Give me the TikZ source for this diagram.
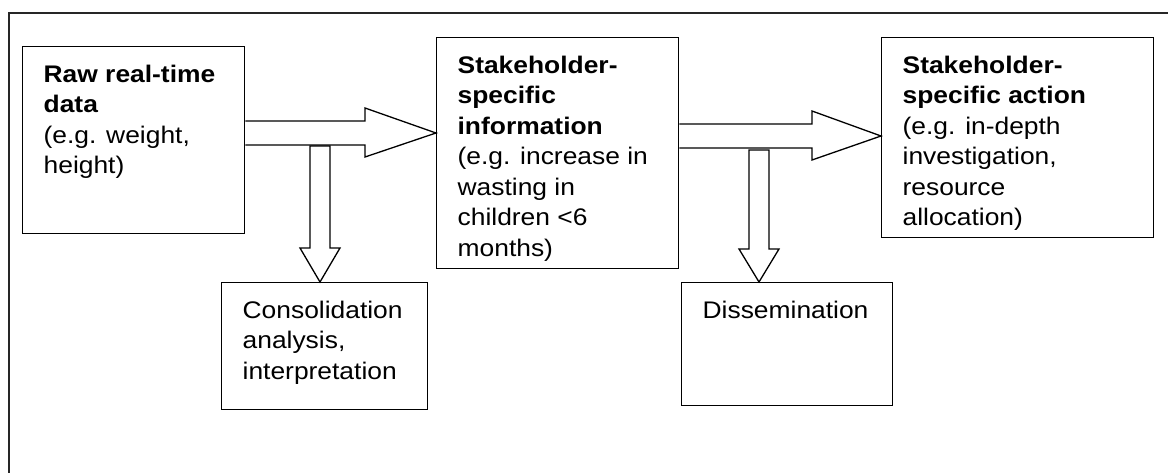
\documentclass[tikz,border=0pt]{standalone}
\usepackage{fontspec}
\setmainfont{Liberation Sans}[FakeStretch=1.1]
\usetikzlibrary{calc}
\tikzset{
  box/.style={draw, line width=1.3pt, anchor=north west, inner xsep=21pt, inner ysep=18pt,
    font=\fontsize{24pt}{30.5pt}\selectfont},
  fat/.style={draw, line width=1.3pt, line join=miter},
}
\newcommand{\boxtext}[3]{\parbox[c][#2][t]{#1}{\raggedright #3}}
\begin{document}
\begin{tikzpicture}[x=1pt,y=-1pt]
	\useasboundingbox (0,0) rectangle (1168,473);
	\draw[line width=1.5pt, black!85] (1168,13) -- (9,13) -- (9,473);
	\node[box] (raw) at (22,46) {\boxtext{180pt}{151pt}{\textbf{Raw real-time}\\\textbf{data}\\(e.g. weight,\\height)}};
	\node[box] (info) at (436,37) {\boxtext{200pt}{195pt}{\textbf{Stakeholder-}\\\textbf{specific}\\\textbf{information}\\(e.g. increase in\\wasting in\\children <6\\months)}};
	\node[box] (action) at (881,37) {\boxtext{230pt}{164pt}{\textbf{Stakeholder-}\\\textbf{specific action}\\(e.g. in-depth\\investigation,\\resource\\allocation)}};
	\node[box] (consol) at (221,282) {\boxtext{164pt}{91pt}{Consolidation\\analysis,\\interpretation}};
	\node[box] (dissem) at (681,282) {\boxtext{169pt}{87pt}{Dissemination}};
	\coordinate (fork1) at (320,146);
	\coordinate (fork2) at (759,150);
	\draw[fat] (raw.east |- 0,121) -- (365,121) -- (365,108) -- (info.west |- 0,133)
		-- (365,157) -- (365,145) -- (raw.east |- 0,145);
	\draw[fat] (info.east |- 0,124) -- (812,124) -- (812,111) -- (action.west |- 0,136)
		-- (812,160) -- (812,148) -- (info.east |- 0,148);
	\draw[fat] ($(fork1)+(-10,0)$) -- ($(fork1)+(-10,102)$) -- ($(fork1)+(-20,102)$)
		-- (fork1 |- consol.north) -- ($(fork1)+(20,102)$) -- ($(fork1)+(10,102)$)
		-- ($(fork1)+(10,0)$) -- cycle;
	\draw[fat] ($(fork2)+(-10,0)$) -- ($(fork2)+(-10,99)$) -- ($(fork2)+(-20,99)$)
		-- (fork2 |- dissem.north) -- ($(fork2)+(20,99)$) -- ($(fork2)+(10,99)$)
		-- ($(fork2)+(10,0)$) -- cycle;
\end{tikzpicture}
\end{document}
